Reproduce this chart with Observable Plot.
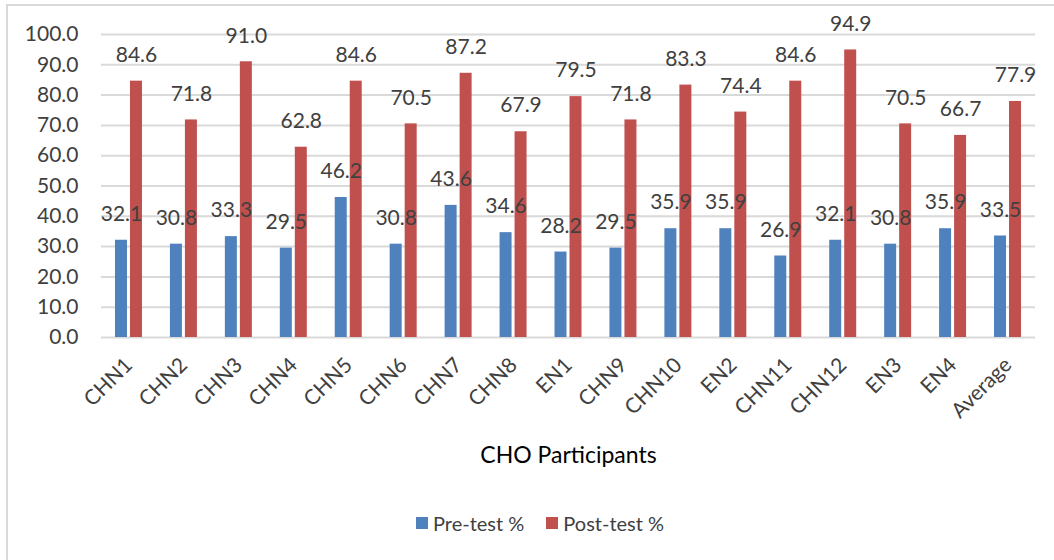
<!DOCTYPE html>
<html>
<head>
<meta charset="utf-8">
<script src="https://cdn.jsdelivr.net/npm/d3@7"></script>
<script src="https://cdn.jsdelivr.net/npm/@observablehq/plot@0.6"></script>
<style>
  html, body { margin: 0; padding: 0; background: #fff; }
  body { width: 1054px; height: 560px; overflow: hidden; position: relative; font-family: Lato, sans-serif; }
  #frame { position: absolute; left: 6px; top: 4px; width: 1100px; height: 600px;
           border-left: 2px solid #d9d9d9; border-top: 2px solid #d9d9d9; }
  #chart { position: absolute; left: 0; top: 0; }
  #legend { position: absolute; left: 416px; top: 511px; display: flex; align-items: center;
            font-size: 20px; color: #404040; white-space: nowrap; }
  #legend .sw { display: inline-block; width: 12px; height: 12px; margin-right: 5px; }
  #legend .item { display: flex; align-items: center; margin-right: 22px; }
</style>
</head>
<body>
<div id="frame"></div>
<div id="chart"></div>
<div id="legend"></div>
<script>
const categories = ["CHN1","CHN2","CHN3","CHN4","CHN5","CHN6","CHN7","CHN8","EN1","CHN9","CHN10","EN2","CHN11","CHN12","EN3","EN4","Average"];
const preTest  = [32.1,30.8,33.3,29.5,46.2,30.8,43.6,34.6,28.2,29.5,35.9,35.9,26.9,32.1,30.8,35.9,33.5];
const postTest = [84.6,71.8,91.0,62.8,84.6,70.5,87.2,67.9,79.5,71.8,83.3,74.4,84.6,94.9,70.5,66.7,77.9];
const seriesNames = ["Pre-test %","Post-test %"];
const seriesColors = ["#4f81bd","#c0504d"];
const yTicks = [0,10,20,30,40,50,60,70,80,90,100];
const axisTitle = "CHO Participants";

const preRows = categories.map((c, i) => ({cat: c, value: preTest[i]}));
const postRows = categories.map((c, i) => ({cat: c, value: postTest[i]}));

const chart = Plot.plot({
  width: 1054,
  height: 480,
  marginTop: 34,
  marginLeft: 101,
  marginRight: 19,
  marginBottom: 143,
  style: { fontFamily: "Lato, sans-serif", fontSize: "21px", color: "#404040", background: "transparent" },
  x: { domain: categories, paddingInner: 0.5086, paddingOuter: 0.2543, round: false, label: null },
  y: { domain: [0, 100], label: null },
  marks: [
    Plot.gridY(yTicks, { stroke: "#d9d9d9", strokeOpacity: 1, strokeWidth: 2 }),
    Plot.barY(preRows, { x: "cat", y: "value", fill: seriesColors[0], insetRight: 15 }),
    Plot.barY(postRows, { x: "cat", y: "value", fill: seriesColors[1], insetLeft: 15 }),
    Plot.text(preRows, { x: "cat", y: "value", text: d => d.value.toFixed(1), dx: -7.5, dy: -26, fill: "#404040", fontSize: 21 }),
    Plot.text(postRows, { x: "cat", y: "value", text: d => d.value.toFixed(1), dx: 7.5, dy: -26, fill: "#404040", fontSize: 21 }),
    Plot.axisY({ ticks: yTicks, tickFormat: d => d.toFixed(1), tickSize: 0, tickPadding: 23, label: null, fontSize: 21 }),
    Plot.axisX({ tickRotate: -45, tickSize: 0, tickPadding: 24, label: null, fontSize: 21 }),
    Plot.text([axisTitle], { frameAnchor: "bottom", lineAnchor: "middle", dy: 118, fontSize: 23, fill: "#000" })
  ]
});
document.getElementById("chart").appendChild(chart);

const legend = document.getElementById("legend");
seriesNames.forEach((name, i) => {
  const item = document.createElement("span");
  item.className = "item";
  const sw = document.createElement("span");
  sw.className = "sw";
  sw.style.background = seriesColors[i];
  item.appendChild(sw);
  item.appendChild(document.createTextNode(name));
  legend.appendChild(item);
});
</script>
</body>
</html>
